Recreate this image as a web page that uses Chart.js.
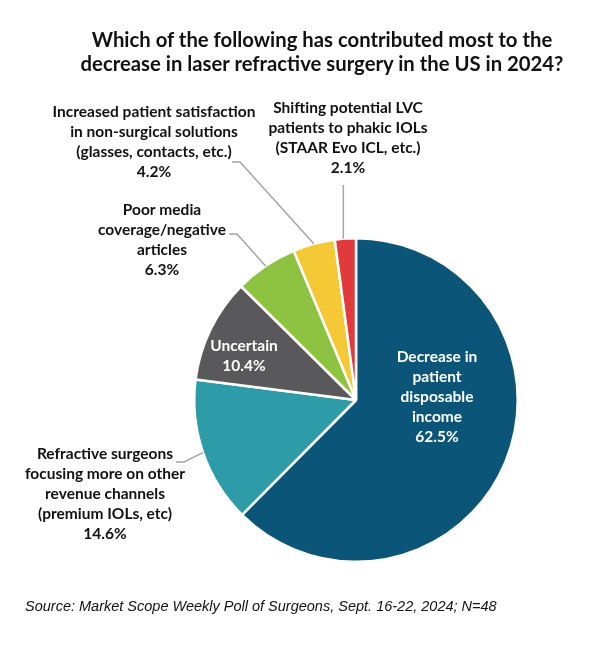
<!DOCTYPE html>
<html>
<head>
<meta charset="utf-8">
<script src="https://cdn.jsdelivr.net/npm/chart.js@4.4.1/dist/chart.umd.min.js"></script>
<style>
  body { margin: 0; background: #fff; }
  #wrap { position: relative; width: 600px; height: 659px; }
  #title { position: absolute; left: 22px; top: 27px; width: 600px; text-align: center;
    font: bold 20.3px Lato, sans-serif; line-height: 24px; color: #111; }
  #source { position: absolute; left: 25px; top: 598px; font: italic 14.5px "Liberation Sans", Arial, sans-serif; color: #111; }
  canvas { position: absolute; left: 0; top: 0; }
</style>
</head>
<body>
<div id="wrap">
  <canvas id="pie" width="600" height="659"></canvas>
  <div id="title">Which of the following has contributed most to the<br>decrease in laser refractive surgery in the US in 2024?</div>
  <div id="source">Source: Market Scope Weekly Poll of Surgeons, Sept. 16-22, 2024; N=48</div>
</div>
<script>
const categories = [
  ['Decrease in', 'patient', 'disposable', 'income'],
  ['Refractive surgeons', 'focusing more on other', 'revenue channels', '(premium IOLs, etc)'],
  ['Uncertain'],
  ['Poor media', 'coverage/negative', 'articles'],
  ['Increased patient satisfaction', 'in non-surgical solutions', '(glasses, contacts, etc.)'],
  ['Shifting potential LVC', 'patients to phakic IOLs', '(STAAR Evo ICL, etc.)']
];
const values = [62.5, 14.6, 10.4, 6.3, 4.2, 2.1];
const colors = ['#0b5678', '#2e9ba9', '#59595b', '#8dc340', '#f5c935', '#e03a3c'];

// where each label sits (center x, first line y) and how its leader line runs
const labelPlaces = [
  { x: 437, y: 357, color: '#fff' },
  { x: 105, y: 454, elbow: [176, 462] },
  { x: 244, y: 346, color: '#fff' },
  { x: 162, y: 210, elbow: [229, 234] },
  { x: 154, y: 112, elbow: [232, 162] },
  { x: 348, y: 108, vertical: 185 }
];

const sliceLabels = {
  id: 'sliceLabels',
  afterDatasetsDraw(chart) {
    const ctx = chart.ctx;
    const arcs = chart.getDatasetMeta(0).data;
    ctx.save();
    arcs.forEach((arc, i) => {
      const p = labelPlaces[i];
      const mid = (arc.startAngle + arc.endAngle) / 2;
      const ax = arc.x + Math.cos(mid) * arc.outerRadius;
      const ay = arc.y + Math.sin(mid) * arc.outerRadius;
      ctx.strokeStyle = '#a5a5a5';
      ctx.lineWidth = 1.5;
      if (p.elbow) {
        ctx.beginPath();
        ctx.moveTo(p.elbow[0], p.elbow[1]);
        ctx.lineTo(p.elbow[0] + 8, p.elbow[1]);
        ctx.lineTo(ax, ay);
        ctx.stroke();
      } else if (p.vertical) {
        ctx.beginPath();
        ctx.moveTo(ax - 2, p.vertical);
        ctx.lineTo(ax - 2, ay);
        ctx.stroke();
      }
      const lines = categories[i].concat([values[i].toFixed(1) + '%']);
      ctx.fillStyle = p.color || '#111';
      ctx.font = 'bold 15.5px Lato, sans-serif';
      ctx.textAlign = 'center';
      ctx.textBaseline = 'middle';
      lines.forEach((t, k) => ctx.fillText(t, p.x, p.y + k * 20));
    });
    ctx.restore();
  }
};

new Chart(document.getElementById('pie').getContext('2d'), {
  type: 'pie',
  data: {
    labels: categories.map(c => c.join(' ')),
    datasets: [{
      data: values,
      backgroundColor: colors,
      borderColor: '#fff',
      borderWidth: 2.5
    }]
  },
  options: {
    responsive: false,
    animation: false,
    layout: { padding: { left: 193, right: 81, top: 237, bottom: 96 } },
    plugins: {
      legend: { display: false },
      tooltip: { enabled: false }
    }
  },
  plugins: [sliceLabels]
});
</script>
</body>
</html>
